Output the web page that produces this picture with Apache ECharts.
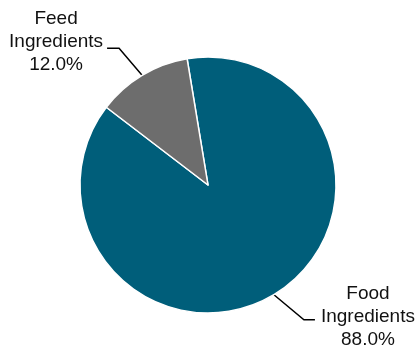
<!DOCTYPE html>
<html><head><meta charset="utf-8">
<script src="https://cdn.jsdelivr.net/npm/echarts@6/dist/echarts.min.js"></script>
<style>html,body{margin:0;padding:0;background:#fff}#c{width:417px;height:353px}</style>
</head><body><div id="c"></div>
<script>
const categories = ["Food\nIngredients", "Feed\nIngredients"];
const values = [88.0, 12.0];
const colors = ["#005E7A", "#6D6D6D"];

const chart = echarts.init(document.getElementById('c'), null, {renderer: 'canvas'});
chart.setOption({
  animation: false,
  series: [{
    type: 'pie',
    center: [208, 185],
    radius: [0, 128],
    startAngle: 99.4,
    clockwise: true,
    data: categories.map((n, i) => ({name: n, value: values[i], itemStyle: {color: colors[i]}})),
    itemStyle: {borderColor: '#fff', borderWidth: 1.5},
    emphasis: {disabled: true},
    label: {
      show: true,
      formatter: p => p.name + '\n' + p.value.toFixed(1) + '%',
      fontFamily: 'Liberation Sans, Arial, sans-serif',
      fontSize: 19,
      lineHeight: 23,
      color: '#111',
      distanceToLabelLine: 6
    },
    labelLine: {
      show: true,
      length: 36,
      length2: 10,
      lineStyle: {color: '#000', width: 1.5}
    },
    labelLayout: function (p) {
      const pts = p.labelLinePoints;
      if (!pts) return {};
      const e = pts[0];
      const w = p.labelRect.width;
      if (p.dataIndex === 0) {
        const c = [e[0] + 30, e[1] + 25];
        const end = [c[0] + 11, c[1]];
        return {labelLinePoints: [e, c, end], x: end[0] + 6 + w / 2, y: end[1] - 3, align: 'center', verticalAlign: 'middle'};
      } else {
        const c = [e[0] - 23, e[1] - 27];
        const end = [c[0] - 12, c[1]];
        return {labelLinePoints: [e, c, end], x: end[0] - 4 - w / 2, y: end[1] - 7, align: 'center', verticalAlign: 'middle'};
      }
    }
  }]
});
</script></body></html>
